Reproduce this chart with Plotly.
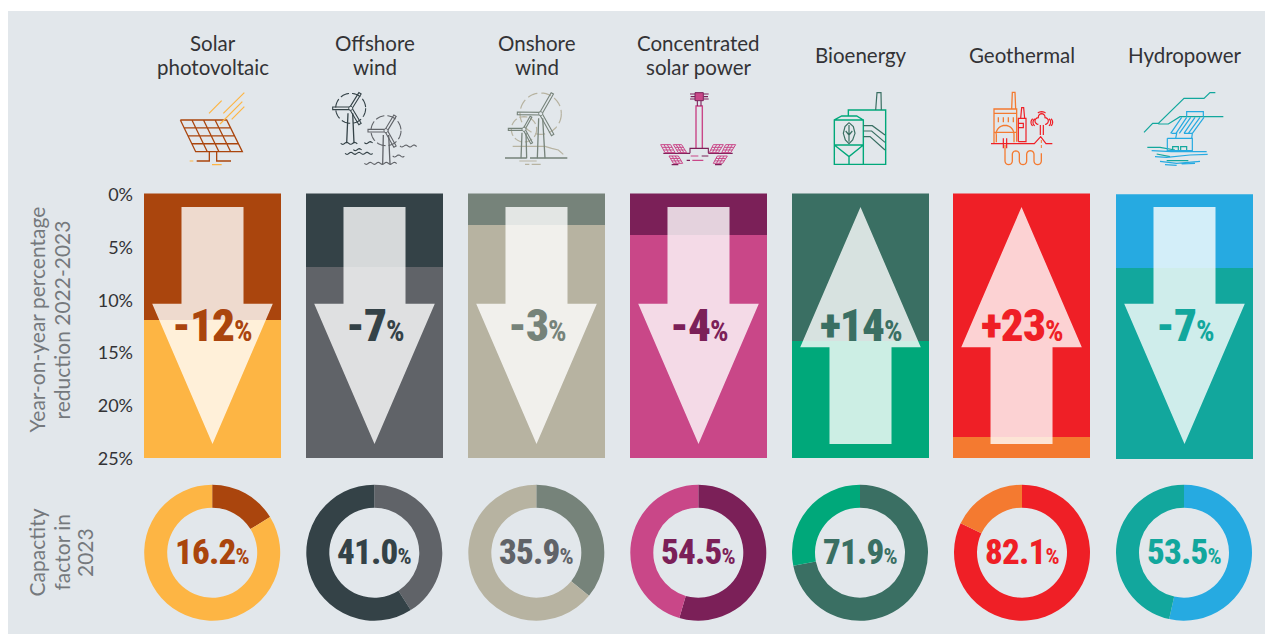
import math
import plotly.graph_objects as go

# ---------- data ----------
categories = ["Solar\nphotovoltaic", "Offshore\nwind", "Onshore\nwind", "Concentrated\nsolar power",
              "Bioenergy", "Geothermal", "Hydropower"]
yoy_change = [-12, -7, -3, -4, 14, 23, -7]
capacity_factor = [16.2, 41.0, 35.9, 54.5, 71.9, 82.1, 53.5]
y_ticks = [0, 5, 10, 15, 20, 25]
y_tick_labels = ["0%", "5%", "10%", "15%", "20%", "25%"]

# ---------- styling ----------
dark = ["#AA450D", "#344247", "#76837A", "#7B2058", "#3A6F63", "#EF1F26", "#26AAE1"]
light = ["#FDB544", "#606368", "#B7B3A1", "#C94788", "#00A87A", "#F47A30", "#12A79D"]
donut_first = ["#AA450D", "#606368", "#76837A", "#7B2058", "#3A6F63", "#EF1F26", "#26AAE1"]
donut_rest = ["#FDB544", "#344247", "#B7B3A1", "#C94788", "#00A87A", "#F47A30", "#12A79D"]
arrow_text = ["#AA450D", "#344247", "#76837A", "#7B2058", "#3A6F63", "#EF1F26", "#12A79D"]
donut_text = ["#AA450D", "#344247", "#606368", "#7B2058", "#3A6F63", "#EF1F26", "#12A79D"]
slots = [0, 1, 2, 3, 4, 4.994, 6]
PANEL = "#E2E7EB"
W, H = 1265, 634
NUM_FONT = "'Roboto Condensed', 'Liberation Sans Narrow', 'Arial Narrow', Roboto, sans-serif"
TXT_FONT = "Lato"

X0, STEP = 212.5, 162.0
AX_LEFT = 134
x_range = [(AX_LEFT - X0) / STEP, (W - X0) / STEP]
BAR_W = 137 / STEP
px = lambda x: x / W
py = lambda y: 1 - y / H

fig = go.Figure()

# ---------- stacked bars ----------
for i, c in enumerate(categories):
    v = abs(yoy_change[i])
    ya = "y2" if i == 6 else "y"
    name = c.replace("\n", " ")
    fig.add_bar(x=[slots[i]], y=[v], width=BAR_W, marker=dict(color=dark[i], line_width=0),
                yaxis=ya, name=name, hoverinfo="skip", showlegend=False)
    fig.add_bar(x=[slots[i]], y=[25 - v], width=BAR_W, marker=dict(color=light[i], line_width=0),
                yaxis=ya, name=name, hoverinfo="skip", showlegend=False)

# invisible carrier for the tick-label axis
fig.add_scatter(x=[slots[0]] * len(y_ticks), y=y_ticks, mode="markers", marker=dict(opacity=0), yaxis="y3",
                hoverinfo="skip", showlegend=False)

# ---------- donuts ----------
donut_cx = [212.2, 374.3, 536.3, 698.3, 860, 1022, 1184]
DCY, DR = 552.7, 68
for i, cf in enumerate(capacity_factor):
    fig.add_pie(values=[cf, 100 - cf], sort=False, direction="clockwise", rotation=0, hole=90 / 136,
                marker=dict(colors=[donut_first[i], donut_rest[i]], line_width=0), textinfo="none",
                hoverinfo="skip", showlegend=False,
                domain=dict(x=[px(donut_cx[i] - DR), px(donut_cx[i] + DR)], y=[py(DCY + DR), py(DCY - DR)]))

shapes = [dict(type="rect", xref="paper", yref="paper", x0=px(8), x1=1, y0=0, y1=py(11),
               fillcolor=PANEL, line_width=0, layer="below")]

# ---------- arrows (axis units) ----------
SH, HD = 31 / STEP, 60.3 / STEP
A_TOP, A_BOT, B_DOWN, B_UP = 1.28, 23.64, 10.40, 14.52
for i, v in enumerate(yoy_change):
    s = slots[i]
    if v < 0:
        pts = [(s - SH, A_TOP), (s + SH, A_TOP), (s + SH, B_DOWN), (s + HD, B_DOWN), (s, A_BOT), (s - HD, B_DOWN), (s - SH, B_DOWN)]
    else:
        pts = [(s, A_TOP), (s + HD, B_UP), (s + SH, B_UP), (s + SH, A_BOT), (s - SH, A_BOT), (s - SH, B_UP), (s - HD, B_UP)]
    path = "M" + " L".join(f"{a:.4f},{b:.4f}" for a, b in pts) + " Z"
    shapes.append(dict(type="path", xref="x", yref="y", path=path, fillcolor="rgba(255,255,255,0.8)", line_width=0, layer="above"))


# ---------- icons (decoration, drawn in zoom-crop coordinates) ----------
def icon(col, lines, ox, oy, w=1.2, dash=None, fill=None, closed=False, opacity=1):
    d = ""
    for ln in lines:
        d += "M" + " L".join(f"{px(ox + a / 3):.5f},{py(oy + b / 3):.5f}" for a, b in ln) + (" Z " if closed else " ")
    shapes.append(dict(type="path", xref="paper", yref="paper", path=d, layer="above", opacity=opacity,
                       fillcolor=fill or "rgba(0,0,0,0)", line=dict(color=col, width=w, dash=dash or "solid")))


def wave(x0, x1, y, per=24, amp=3):
    n = max(2, int((x1 - x0) / 3))
    return [(x0 + (x1 - x0) * k / n, y + amp * math.sin((x1 - x0) * k / n / per * 2 * math.pi)) for k in range(n + 1)]


def arc(cx, cy, r, a0=0, a1=360, n=48):
    return [(cx + r * math.cos(math.radians(a0 + (a1 - a0) * k / n)), cy + r * math.sin(math.radians(a0 + (a1 - a0) * k / n))) for k in range(n + 1)]


def blade(h, t, hw):
    dx, dy = t[0] - h[0], t[1] - h[1]
    L = math.hypot(dx, dy)
    nx, ny = -dy / L * hw, dx / L * hw
    return [(h[0] + nx, h[1] + ny), (t[0] + nx, t[1] + ny), (t[0] - nx, t[1] - ny), (h[0] - nx, h[1] - ny)]


def lerp(a, b, t):
    return (a[0] + (b[0] - a[0]) * t, a[1] + (b[1] - a[1]) * t)


def panel(col, q, rows, cols, w=1.2, fill=None):
    a, b, c, d = q
    ls = [[a, b, c, d, a]]
    for r in range(1, rows):
        t = r / rows
        ls.append([lerp(a, d, t), lerp(b, c, t)])
    for k in range(1, cols):
        t = k / cols
        ls.append([lerp(a, b, t), lerp(d, c, t)])
    icon(col, ls, OX, OY, w=w, fill=fill)


def turbine(col, hub, tips, towers, hw=4):
    for t in tips:
        icon(col, [blade(hub, t, hw)], OX, OY, closed=True, w=1.1)
    icon(col, towers, OX, OY, w=1.3)
    icon(col, [arc(hub[0], hub[1], 6, n=16)], OX, OY, w=1, fill=PANEL)


# Solar PV
OX, OY = 0, 0
panel("#AA450D", [(541, 360), (680, 360), (727, 455), (587, 455)], 4, 4, w=1.3)
icon("#AA450D", [[(628, 455), (628, 483), (590, 483)], [(650, 455), (650, 483), (693, 483)]], 0, 0, w=1.3)
icon("#FDB544", [[(627, 340), (665, 302)], [(670, 340), (733, 278)], [(660, 372), (727, 305)], [(695, 358), (733, 320)],
                 [(569, 483), (580, 483)], [(636, 494), (665, 494)]], 0, 0, w=1.2)

# Offshore wind
turbine("#344247", (1052, 325), [(1080, 280), (998, 325), (1080, 372)], [[(1044, 340), (1040, 430)], [(1058, 340), (1062, 430)]])
icon("#344247", [arc(1052, 325, 45)], 0, 0, w=1.1, dash="9px,3px")
turbine("#606368", (1158, 392), [(1185, 347), (1104, 392), (1185, 440)], [[(1150, 405), (1148, 492)], [(1166, 405), (1170, 492)]])
icon("#606368", [arc(1158, 392, 45)], 0, 0, w=1.1, dash="9px,3px")
icon("#344247", [wave(1022, 1072, 430), wave(1093, 1118, 428), wave(1035, 1118, 460), wave(1060, 1085, 449)], 0, 0, w=1.1)
icon("#606368", [wave(1200, 1250, 438), wave(1178, 1213, 468), wave(1093, 1190, 490)], 0, 0, w=1.1)

# Onshore wind
OX, OY = 490, 85
icon("#B7B3A1", [arc(152, 86, 62)], OX, OY, w=1.2, dash="10px,4px")
icon("#B7B3A1", [arc(102, 133, 38)], OX, OY, w=1.2, dash="8px,3px")
icon("#B7B3A1", [[(68, 184), (165, 184), (185, 190), (205, 195), (220, 208)], [(88, 228), (140, 228)], [(105, 238), (118, 238)], [(125, 238), (152, 238)]], OX, OY, w=1.2)
turbine("#76837A", (152, 86), [(187, 25), (82, 85), (188, 150)], [[(146, 100), (142, 220)], [(158, 100), (165, 220)]])
turbine("#76837A", (102, 133), [(123, 95), (55, 133), (125, 175)], [[(96, 143), (93, 220)], [(108, 143), (110, 220)]], hw=3)
icon("#76837A", [[(45, 219), (110, 219)], [(120, 219), (232, 219)]], OX, OY, w=1.3)

# Concentrated solar power
OX, OY = 460, 0
icon("#C94788", [[(708, 445), (708, 318), (727, 318), (727, 445)]], OX, OY, w=1.4)
icon("#7B2058", [[(712, 302), (712, 318)], [(723, 302), (723, 318)], [(690, 460), (690, 445), (745, 445), (745, 460)], [(610, 460), (690, 460)], [(745, 460), (818, 460)],
                 [(690, 282), (705, 282)], [(690, 297), (705, 297)], [(731, 282), (746, 282)], [(731, 297), (746, 297)], [(692, 290), (705, 290)], [(731, 290), (744, 290)]], OX, OY, w=1.1)
icon("#7B2058", [[(705, 278), (730, 278), (730, 302), (705, 302)]], OX, OY, w=1, fill="#C94788", closed=True)
for q in [[(602, 434), (632, 434), (645, 458), (615, 458)], [(640, 434), (665, 434), (680, 458), (655, 458)],
          [(760, 434), (790, 434), (775, 458), (748, 458)], [(797, 434), (827, 434), (812, 458), (785, 458)],
          [(627, 468), (655, 468), (668, 490), (640, 490)], [(772, 468), (802, 468), (788, 490), (760, 490)]]:
    panel("#C94788", q, 3, 3, w=1)
icon("#C94788", [[(697, 481), (730, 481)], [(692, 468), (715, 468)]], OX, OY, w=1.1)
icon("#7B2058", [[(680, 481), (690, 481)], [(725, 468), (745, 468)], [(635, 494), (655, 494)], [(765, 494), (785, 494)]], OX, OY, w=1.1)

# Bioenergy
OX, OY = 820, 85
icon("#00A87A", [[(43, 105), (130, 105), (130, 238), (43, 238), (43, 105), (65, 93), (110, 93), (130, 105)],
                 [(85, 93), (85, 75), (197, 75), (197, 238), (130, 238)], [(43, 180), (130, 180)],
                 [(43, 180), (87, 215), (130, 180)], [(87, 215), (87, 238)]], OX, OY, w=1.4)
icon("#3A6F63", [[(167, 75), (171, 23), (183, 23), (184, 75)],
                 [(130, 122), (157, 122), (195, 150)], [(130, 138), (155, 138), (195, 172)], [(130, 155), (150, 155), (195, 195)],
                 [(87, 113), (100, 125), (105, 145), (98, 165), (87, 176), (76, 165), (70, 145), (75, 125), (87, 113)],
                 [(87, 120), (87, 170)], [(87, 150), (97, 138)], [(87, 150), (77, 138)]], OX, OY, w=1.2)

# Geothermal
OX, OY = 975, 85
snake = ([(90, 180), (90, 228)] + arc(101, 228, 11, 180, 0, 10) + [(112, 208)] + arc(122.5, 208, 10.5, 180, 360, 10) + [(133, 228)]
         + arc(144, 228, 11, 180, 0, 10) + [(155, 208)] + arc(166, 208, 11, 180, 360, 10) + [(177, 228)]
         + arc(188, 228, 11, 180, 0, 10) + [(199, 205)])
icon("#F47A30", [[(110, 72), (112, 22), (120, 22), (122, 72)], [(57, 176), (57, 72), (125, 72), (125, 170)], [(57, 85), (125, 85)],
                 [(70, 97), (70, 112)], [(85, 97), (85, 112)], [(100, 97), (100, 112)], [(115, 97), (115, 112)],
                 arc(90, 148, 27, 180, 360, 16), [(58, 142), (125, 142)], [(64, 148), (64, 172)], [(117, 148), (117, 172)],
                 snake], OX, OY, w=1.3)
icon("#EF1F26", [[(48, 176), (178, 176), (197, 155), (213, 176), (232, 176)], [(85, 160), (85, 190)], [(95, 160), (95, 190)],
                 [(130, 170), (130, 100), (153, 100), (153, 170), (130, 170)], [(137, 100), (140, 68), (146, 68), (149, 100)],
                 [(130, 115), (145, 115), (145, 128), (130, 128)],
                 [(196, 120), (196, 150)], [(205, 120), (205, 150)],
                 arc(190, 108, 10, 90, 270, 8) + arc(200, 96, 10, 180, 360, 8) + arc(210, 108, 10, -90, 90, 8),
                 arc(188, 112, 14, 130, 230, 6), arc(182, 112, 14, 130, 230, 6), arc(213, 112, 14, -50, 50, 6), arc(219, 112, 14, -50, 50, 6),
                 arc(200, 98, 18, 230, 310, 6)], OX, OY, w=1.2)
icon("#F47A30", [[(199, 165), (199, 190)]], OX, OY, w=1, dash="3px,2px")

# Hydropower
OX, OY = 860, 0
icon("#12A79D", [[(852, 397), (878, 370), (895, 370), (972, 295), (1032, 295), (1050, 278), (1066, 278)],
                 [(895, 372), (925, 372), (960, 350), (1090, 350)],
                 [(862, 442), (900, 442), (945, 450)], [(920, 482), (985, 482)], [(890, 462), (930, 470)],
                 [(938, 452), (938, 440), (955, 440), (955, 455)], [(962, 452), (962, 440), (980, 440), (980, 455)]], OX, OY, w=1.2)
icon("#26AAE1", [[(980, 350), (980, 335), (1030, 335), (1030, 350)],
                 [(965, 352), (932, 400)], [(980, 352), (948, 400)], [(992, 352), (958, 400)], [(1005, 352), (972, 400)], [(1020, 352), (985, 400)], [(1032, 352), (997, 400)],
                 [(935, 400), (950, 400), (947, 415)], [(972, 400), (997, 400), (995, 415)],
                 [(922, 415), (997, 415), (997, 452), (922, 452), (922, 415)],
                 [(875, 452), (935, 455), (1040, 455)], [(885, 470), (920, 472), (990, 465), (1043, 463)],
                 [(900, 484), (950, 490), (1020, 484)], [(915, 494), (950, 496)], [(965, 492), (1005, 490)]], OX, OY, w=1.2)


# ---------- text ----------
ann = []


def text(x, y, s, size, col, font=TXT_FONT, angle=0, weight=None):
    f = dict(family=font, size=size, color=col)
    if weight:
        f["weight"] = weight
    ann.append(dict(x=x, y=y, text=s, xref="paper", yref="paper", showarrow=False, textangle=angle, xanchor="center", yanchor="middle",
                    font=f, align="center", borderpad=0, borderwidth=0))


for i, c in enumerate(categories):
    lines = c.split("\n")
    ys = [42.5, 66.5] if len(lines) == 2 else [54.5]
    for ln, yy in zip(lines, ys):
        text(px(X0 + STEP * slots[i]), py(yy), ln, 20.5, "#333336")

for ln, xx, in zip(["Year-on-year percentage", "reduction 2022-2023"], [35.5, 60.5]):
    text(px(xx), py(320), ln, 21, "#75797D", angle=-90)
for ln, xx in zip(["Capactity", "factor in", "2023"], [35.5, 60.5, 84]):
    text(px(xx), py(553), ln, 21, "#75797D", angle=-90)

for i, v in enumerate(yoy_change):
    s = f"{v:+d}"
    text(px(X0 + STEP * slots[i]), py(325), f'<span style="letter-spacing:-1px">{s}</span><span style="font-size:29px;font-weight:700">%</span>',
         45, arrow_text[i], font=NUM_FONT, weight=900)
for i, cf in enumerate(capacity_factor):
    text(px(donut_cx[i]), py(552.5), f'<span style="letter-spacing:-0.8px">{cf:.1f}</span><span style="font-size:22px;font-weight:700">%</span>',
         35, donut_text[i], font=NUM_FONT, weight=800)

fig.update_layout(
    width=W, height=H, margin=dict(l=0, r=0, t=0, b=0), paper_bgcolor="white", plot_bgcolor="rgba(0,0,0,0)",
    barmode="stack", bargap=0, showlegend=False, shapes=shapes, annotations=ann,
    xaxis=dict(domain=[px(AX_LEFT), 1], range=x_range, visible=False, fixedrange=True, automargin=False),
    yaxis=dict(domain=[py(458.4), py(193.4)], range=[25, 0], showgrid=False, zeroline=False, showticklabels=False,
               ticks="", showline=False, fixedrange=True, automargin=False),
    yaxis2=dict(domain=[py(459.2), py(194.2)], range=[25, 0], anchor="x", side="left", showgrid=False, zeroline=False,
                showticklabels=False, ticks="", showline=False, fixedrange=True, automargin=False),
    yaxis3=dict(domain=[py(458.5), py(195)], range=[25, 0], anchor="x", side="left", showgrid=False, zeroline=False,
                tickmode="array", tickvals=y_ticks, ticktext=y_tick_labels, ticks="", showline=False, fixedrange=True, automargin=False,
                tickfont=dict(family=TXT_FONT, size=18, color="#333336")),
)
fig.write_html("out.html", post_script="document.body.style.margin='0';document.body.style.overflow='hidden';",
               config=dict(displayModeBar=False))
